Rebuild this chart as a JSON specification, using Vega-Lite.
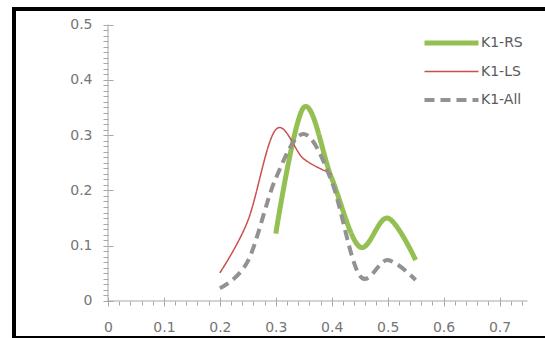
{
  "$schema": "https://vega.github.io/schema/vega-lite/v6.json",
  "autosize": {"type": "none"},
  "width": 600,
  "height": 329,
  "padding": {"left": 14, "top": 9, "right": -69, "bottom": 0},
  "background": "#ffffff",
  "config": {
    "view": {"stroke": "#000000", "strokeWidth": 4},
    "axis": {"grid": false, "domain": false, "title": null, "tickColor": "#a8a8a8", "tickWidth": 1, "labelFont": "DejaVu Sans", "labelFontSize": 14, "labelColor": "#757575"}
  },
  "data": {
    "values": [
      {"series": "K1-RS", "x": 0.30, "y": 0.122},
      {"series": "K1-RS", "x": 0.35, "y": 0.35},
      {"series": "K1-RS", "x": 0.40, "y": 0.222},
      {"series": "K1-RS", "x": 0.45, "y": 0.098},
      {"series": "K1-RS", "x": 0.50, "y": 0.15},
      {"series": "K1-RS", "x": 0.55, "y": 0.074},
      {"series": "K1-LS", "x": 0.20, "y": 0.051},
      {"series": "K1-LS", "x": 0.25, "y": 0.145},
      {"series": "K1-LS", "x": 0.30, "y": 0.31},
      {"series": "K1-LS", "x": 0.35, "y": 0.257},
      {"series": "K1-LS", "x": 0.40, "y": 0.23},
      {"series": "K1-All", "x": 0.20, "y": 0.023},
      {"series": "K1-All", "x": 0.25, "y": 0.072},
      {"series": "K1-All", "x": 0.30, "y": 0.222},
      {"series": "K1-All", "x": 0.35, "y": 0.302},
      {"series": "K1-All", "x": 0.40, "y": 0.216},
      {"series": "K1-All", "x": 0.45, "y": 0.046},
      {"series": "K1-All", "x": 0.50, "y": 0.074},
      {"series": "K1-All", "x": 0.55, "y": 0.038}
    ]
  },
  "layer": [
    {
      "mark": {"type": "line", "interpolate": "cardinal"},
      "encoding": {
        "x": {"field": "x", "type": "quantitative",
          "scale": {"domain": [-0.16807, 0.90471], "nice": false, "zero": false},
          "axis": {"orient": "bottom", "offset": -37, "values": [0, 0.1, 0.2, 0.3, 0.4, 0.5, 0.6, 0.7], "format": ".1~f", "tickSize": 5, "labelPadding": 14}},
        "y": {"field": "y", "type": "quantitative",
          "scale": {"domain": [-0.06691, 0.52803], "nice": false, "zero": false},
          "axis": {"orient": "left", "offset": -94, "values": [0, 0.1, 0.2, 0.3, 0.4, 0.5], "format": ".1~f", "tickSize": 5, "labelPadding": 11}},
        "color": {"field": "series", "type": "nominal",
          "scale": {"domain": ["K1-RS", "K1-LS", "K1-All"], "range": ["#94c053", "#c9504c", "#929292"]},
          "legend": {"orient": "none", "legendX": 408, "legendY": 24, "title": null, "symbolType": "stroke", "symbolSize": 2916, "clipHeight": 20, "rowPadding": 8.5, "labelFont": "DejaVu Sans", "labelFontSize": 14, "labelColor": "#5a5a5a", "labelOffset": 0, "padding": 0}},
        "strokeWidth": {"field": "series", "type": "nominal",
          "scale": {"type": "ordinal", "domain": ["K1-RS", "K1-LS", "K1-All"], "range": [5, 1.5, 4]},
          "legend": {"orient": "none", "legendX": 408, "legendY": 24, "title": null, "symbolType": "stroke", "symbolSize": 2916, "clipHeight": 20, "rowPadding": 8.5, "labelFont": "DejaVu Sans", "labelFontSize": 14, "labelColor": "#5a5a5a", "labelOffset": 0, "padding": 0}},
        "strokeDash": {"field": "series", "type": "nominal",
          "scale": {"domain": ["K1-RS", "K1-LS", "K1-All"], "range": [[1, 0], [1, 0], [10, 6]]},
          "legend": {"orient": "none", "legendX": 408, "legendY": 24, "title": null, "symbolType": "stroke", "symbolSize": 2916, "clipHeight": 20, "rowPadding": 8.5, "labelFont": "DejaVu Sans", "labelFontSize": 14, "labelColor": "#5a5a5a", "labelOffset": 0, "padding": 0}}
      }
    },
    {
      "data": {"values": [{"a": 1}]},
      "mark": {"type": "rule", "color": "#a8a8a8", "strokeWidth": 1},
      "encoding": {
        "x": {"datum": 0, "type": "quantitative",
          "scale": {"domain": [-0.16807, 0.90471], "nice": false, "zero": false},
          "axis": {"orient": "bottom", "offset": -37, "labels": false, "tickSize": 4,
            "values": [0.02, 0.04, 0.06, 0.08, 0.12, 0.14, 0.16, 0.18, 0.22, 0.24, 0.26, 0.28, 0.32, 0.34, 0.36, 0.38, 0.42, 0.44, 0.46, 0.48, 0.52, 0.54, 0.56, 0.58, 0.62, 0.64, 0.66, 0.68, 0.72, 0.74]}},
        "x2": {"datum": 0.75},
        "y": {"datum": 0, "type": "quantitative",
          "scale": {"domain": [-0.06691, 0.52803], "nice": false, "zero": false},
          "axis": {"orient": "left", "offset": -94, "labels": false, "tickSize": 5,
            "values": [0.01, 0.02, 0.03, 0.04, 0.05, 0.06, 0.07, 0.08, 0.09, 0.11, 0.12, 0.13, 0.14, 0.15, 0.16, 0.17, 0.18, 0.19, 0.21, 0.22, 0.23, 0.24, 0.25, 0.26, 0.27, 0.28, 0.29, 0.31, 0.32, 0.33, 0.34, 0.35, 0.36, 0.37, 0.38, 0.39, 0.41, 0.42, 0.43, 0.44, 0.45, 0.46, 0.47, 0.48, 0.49]}}
      }
    },
    {
      "data": {"values": [{"a": 1}]},
      "mark": {"type": "rule", "color": "#a8a8a8", "strokeWidth": 1},
      "encoding": {
        "x": {"datum": 0, "type": "quantitative",
          "scale": {"domain": [-0.16807, 0.90471], "nice": false, "zero": false},
          "axis": {"orient": "bottom", "offset": -37, "labels": false, "tickSize": -4,
            "values": [0, 0.1, 0.2, 0.3, 0.4, 0.5, 0.6, 0.7]}},
        "y": {"datum": 0, "type": "quantitative",
          "scale": {"domain": [-0.06691, 0.52803], "nice": false, "zero": false},
          "axis": {"orient": "left", "offset": -94, "labels": false, "tickSize": -5,
            "values": [0, 0.1, 0.2, 0.3, 0.4, 0.5]}},
        "y2": {"datum": 0.5}
      }
    }
  ],
  "resolve": {"axis": {"x": "independent", "y": "independent"}}
}
